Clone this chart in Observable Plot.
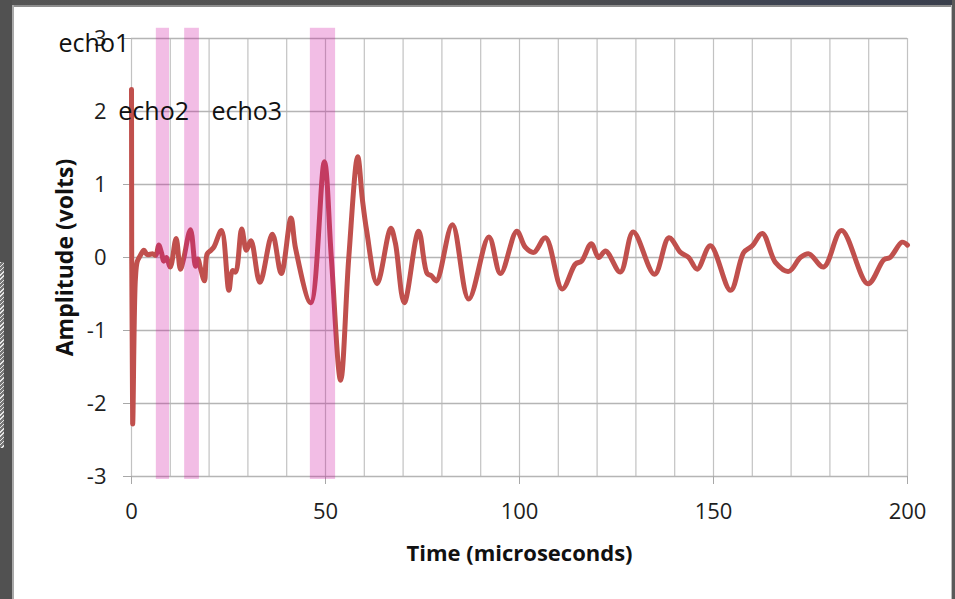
<!DOCTYPE html>
<html><head><meta charset="utf-8">
<script src="https://cdn.jsdelivr.net/npm/d3@7"></script>
<script src="https://cdn.jsdelivr.net/npm/@observablehq/plot@0.6"></script>
<style>
html,body{margin:0;padding:0;background:#fff;}
#wrap{position:relative;width:955px;height:599px;overflow:hidden;background:#fff;}
#chart{position:absolute;left:0;top:0;}
.f{position:absolute;}
</style></head><body>
<div id="wrap">
<div id="chart"></div>
<div class="f" style="left:0;top:0;width:955px;height:5px;background:linear-gradient(to right,#555 0%,#4f4f4f 55%,#3c4252 85%,#3a3f4c 100%);"></div>
<div class="f" style="left:12px;top:5px;width:943px;height:2px;background:#8e8e8e;"></div>
<div class="f" style="left:0;top:0;width:12px;height:599px;background:#515151;"></div>
<div class="f" style="left:12px;top:5px;width:2px;height:594px;background:#a9a9a9;"></div>
<div class="f" style="left:0;top:262px;width:4px;height:186px;background:repeating-linear-gradient(135deg,#e6e6e6 0 1px,#777 1px 3px);"></div>
<div class="f" style="left:952px;top:0;width:3px;height:599px;background:#5a5a5a;"></div>
<div class="f" style="left:951px;top:5px;width:1px;height:594px;background:#bdbdbd;"></div>
</div>
<script>
// Time (microseconds) and amplitude (volts)
const time = [0, 0.3, 1.0, 1.5, 2.2, 3.2, 4, 5.5, 6.3, 7.0, 7.8, 8.3, 9, 10, 11.5, 12.6, 13.3, 15.2, 16.5, 17.1, 17.8, 18.8, 19.5, 20.5, 21.3, 23.2, 25.1, 26, 26.8, 28.4, 29.6, 30.8, 33.1, 36.3, 38.6, 41.1, 42.3, 46.2, 49.7, 51.5, 53.9, 56, 58.3, 59.5, 60.6, 63.3, 66.8, 68, 70.3, 74, 76.2, 77.3, 78.6, 82.7, 86.9, 92.1, 95.1, 99.3, 101.5, 103.7, 106.7, 111, 114.4, 116, 118.5, 120.4, 122.2, 126, 129.3, 134.8, 138.5, 141.5, 143.6, 145.8, 149.2, 154.4, 157.8, 160, 162.6, 166, 169.4, 172.4, 174.6, 178.4, 183, 189.8, 193.9, 195.5, 198.6, 200];
const amplitude = [2.3, -2.28, -0.3, -0.05, 0.02, 0.1, 0.04, 0.05, 0.03, 0.17, 0.05, -0.05, 0.0, -0.13, 0.26, -0.16, -0.05, 0.38, -0.12, -0.02, -0.15, -0.32, 0.05, 0.1, 0.15, 0.37, -0.45, -0.18, -0.2, 0.39, 0.1, 0.23, -0.34, 0.32, -0.22, 0.54, 0.12, -0.62, 1.31, 0.0, -1.68, 0.0, 1.38, 0.8, 0.37, -0.36, 0.4, 0.2, -0.62, 0.36, -0.22, -0.25, -0.32, 0.45, -0.57, 0.28, -0.22, 0.36, 0.14, 0.07, 0.27, -0.43, -0.09, -0.05, 0.19, 0.0, 0.09, -0.2, 0.35, -0.23, 0.27, 0.07, 0.0, -0.16, 0.16, -0.45, 0.07, 0.16, 0.33, -0.07, -0.19, 0.0, 0.05, -0.13, 0.37, -0.36, -0.03, 0.0, 0.21, 0.17];

// Highlighted echo windows (microseconds)
const bandStart = [6.4, 13.7, 46.1];
const bandEnd = [9.8, 17.5, 52.6];
const bandBottom = -3.04;
const bandTop = 3.14;

// Echo labels and their anchor points (data units)
const echoNames = ["echo1", "echo2", "echo3"];
const echoLabelX = [-18.8, -3.4, 20.6];
const echoLabelY = [2.81, 1.89, 1.89];

const xTicks = [0, 50, 100, 150, 200];
const xGrid = d3.range(0, 201, 10);
const yTicks = [-3, -2, -1, 0, 1, 2, 3];
const xLabel = "Time (microseconds)";
const yLabel = "Amplitude (volts)";

const signal = time.map((t, i) => ({t, v: amplitude[i]}));
const bands = bandStart.map((s, i) => ({x1: s, x2: bandEnd[i]}));

const chart = Plot.plot({
  width: 955, height: 599,
  marginLeft: 131, marginRight: 48, marginTop: 38, marginBottom: 123,
  x: {domain: [0, 200]},
  y: {domain: [-3, 3]},
  style: {fontFamily: "'Open Sans', sans-serif", background: "transparent", overflow: "visible"},
  marks: [
    Plot.gridX(xGrid, {stroke: "#c2c2c2", strokeOpacity: 1, strokeWidth: 1.2}),
    Plot.gridY(yTicks, {stroke: "#b5b5b5", strokeOpacity: 1, strokeWidth: 1.4}),
    Plot.axisX(xTicks, {tickSize: 8, tickPadding: 19, fontSize: 22, stroke: "#a8a8a8", fill: "#1e1e1e", label: null, tickFormat: d => String(d)}),
    Plot.axisY(yTicks, {tickSize: 8, tickPadding: 17, fontSize: 22, stroke: "#a8a8a8", fill: "#1e1e1e", label: null, tickFormat: d => String(d)}),
    Plot.line(signal, {x: "t", y: "v", stroke: "#c0504d", strokeWidth: 5, curve: "catmull-rom", strokeLinejoin: "round", strokeLinecap: "round"}),
    Plot.rect(bands, {x1: "x1", x2: "x2", y1: () => bandBottom, y2: () => bandTop, fill: "#cc0099", fillOpacity: 0.26}),
    Plot.text(echoNames, {x: (d, i) => echoLabelX[i], y: (d, i) => echoLabelY[i], text: d => d, textAnchor: "start", lineAnchor: "bottom", fontSize: 25, fill: "#111"}),
    Plot.text([xLabel], {frameAnchor: "bottom", dy: 77, text: d => d, textAnchor: "middle", lineAnchor: "middle", fontSize: 22, fontWeight: "bold", fill: "#111"}),
    Plot.text([yLabel], {frameAnchor: "left", dx: -66, rotate: -90, text: d => d, textAnchor: "middle", lineAnchor: "middle", fontSize: 23, fontWeight: "bold", fill: "#111"})
  ]
});
document.getElementById("chart").appendChild(chart);
</script>
</body></html>
